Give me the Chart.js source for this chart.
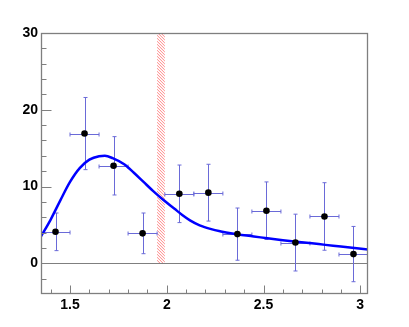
<!DOCTYPE html>
<html>
<head>
<meta charset="utf-8">
<script src="https://cdn.jsdelivr.net/npm/chart.js@4.4.0/dist/chart.umd.min.js"></script>
<style>
body { margin: 0; background: #fff; }
</style>
</head>
<body>
<canvas id="fit-chart" width="409" height="327"></canvas>
<script>
// measured points (bin centre, count, error)
var bin_centers = [1.425, 1.575, 1.725, 1.875, 2.065, 2.215, 2.365, 2.515, 2.665, 2.815, 2.965];
var bin_half_width = [0.075, 0.075, 0.075, 0.075, 0.075, 0.075, 0.075, 0.075, 0.075, 0.075, 0.075];
var counts = [4.1, 16.9, 12.7, 3.9, 9.05, 9.2, 3.8, 6.85, 2.7, 6.1, 1.2];
var count_errors = [2.45, 4.7, 3.8, 2.65, 3.75, 3.7, 3.4, 3.75, 3.7, 4.4, 3.6];

// fit curve
var fit_x = [1.35, 1.40, 1.45, 1.50, 1.55, 1.60, 1.65, 1.68, 1.72, 1.78, 1.83, 1.88, 1.93, 1.98, 2.04, 2.08, 2.12, 2.17, 2.23, 2.28, 2.33, 2.37, 2.45, 2.52, 2.60, 2.67, 2.75, 2.82, 2.90, 2.97, 3.04];
var fit_y = [3.5, 5.7, 8.2, 10.6, 12.4, 13.5, 13.95, 14.0, 13.7, 12.9, 11.8, 10.6, 9.4, 8.3, 7.1, 6.3, 5.6, 4.95, 4.45, 4.15, 3.9, 3.75, 3.5, 3.25, 3.0, 2.8, 2.6, 2.4, 2.2, 2.0, 1.8];

// excluded region (hatched)
var band_x = [1.95, 1.99];
var band_y = [0, 30];

var x_ticks = [1.5, 2, 2.5, 3];
var y_ticks = [0, 10, 20, 30];
var x_minor_step = 0.1;
var y_minor_step = 2;

var axis_grey = '#7f7f7f';
var err_color = '#6a6ad8';

var rootStyle = {
	id: 'rootStyle',
	beforeDatasetsDraw: function(chart) {
		var ctx = chart.ctx;
		var xs = chart.scales.x, ys = chart.scales.y;
		var area = chart.chartArea;

		// hatched band
		var bx0 = xs.getPixelForValue(band_x[0]), bx1 = xs.getPixelForValue(band_x[1]);
		var by0 = ys.getPixelForValue(band_y[1]), by1 = ys.getPixelForValue(band_y[0]);
		var h = by1 - by0;
		ctx.save();
		ctx.beginPath();
		ctx.rect(bx0, by0, bx1 - bx0, h);
		ctx.clip();
		ctx.strokeStyle = 'rgba(255,80,80,0.7)';
		ctx.lineWidth = 1;
		ctx.beginPath();
		for (var d = -h; d < bx1 - bx0; d += 3) {
			ctx.moveTo(bx0 + d, by0);
			ctx.lineTo(bx0 + d + h, by1);
		}
		ctx.stroke();
		ctx.restore();

		// zero line
		var y0 = Math.round(ys.getPixelForValue(0)) + 0.5;
		ctx.save();
		ctx.strokeStyle = axis_grey;
		ctx.lineWidth = 1;
		ctx.beginPath();
		ctx.moveTo(area.left, y0);
		ctx.lineTo(area.right, y0);
		ctx.stroke();

		// error bars
		ctx.beginPath();
		ctx.rect(area.left, area.top, area.right - area.left, area.bottom - area.top);
		ctx.clip();
		ctx.strokeStyle = err_color;
		ctx.lineWidth = 1;
		ctx.beginPath();
		for (var i = 0; i < bin_centers.length; i++) {
			var px = Math.round(xs.getPixelForValue(bin_centers[i])) + 0.5;
			var py = Math.round(ys.getPixelForValue(counts[i])) + 0.5;
			var xl = xs.getPixelForValue(bin_centers[i] - bin_half_width[i]);
			var xr = xs.getPixelForValue(bin_centers[i] + bin_half_width[i]);
			var yt = ys.getPixelForValue(counts[i] + count_errors[i]);
			var yb = ys.getPixelForValue(counts[i] - count_errors[i]);
			ctx.moveTo(xl, py); ctx.lineTo(xr, py);
			ctx.moveTo(px, yt); ctx.lineTo(px, yb);
			ctx.moveTo(xl, py - 2); ctx.lineTo(xl, py + 2);
			ctx.moveTo(xr, py - 2); ctx.lineTo(xr, py + 2);
			ctx.moveTo(px - 2, yt); ctx.lineTo(px + 2, yt);
			ctx.moveTo(px - 2, yb); ctx.lineTo(px + 2, yb);
		}
		ctx.stroke();
		ctx.restore();
	},
	afterDraw: function(chart) {
		var ctx = chart.ctx;
		var xs = chart.scales.x, ys = chart.scales.y;
		var area = chart.chartArea;
		var L = area.left + 0.5, R = area.right - 0.5, T = area.top + 0.5, B = area.bottom - 0.5;
		ctx.save();
		ctx.strokeStyle = axis_grey;
		ctx.lineWidth = 1.3;
		ctx.strokeRect(L, T, R - L, B - T);

		ctx.lineWidth = 1;
		ctx.beginPath();
		// x ticks (inward, from bottom)
		var xv, k;
		for (k = Math.ceil(xs.min / x_minor_step); k * x_minor_step <= xs.max + 1e-9; k++) {
			xv = k * x_minor_step;
			var major = x_ticks.some(function(t) { return Math.abs(t - xv) < 1e-6; });
			var px = Math.round(xs.getPixelForValue(xv)) + 0.5;
			ctx.moveTo(px, B);
			ctx.lineTo(px, B - (major ? 8 : 4));
		}
		// y ticks (inward, from left)
		for (k = Math.ceil(ys.min / y_minor_step); k * y_minor_step <= ys.max + 1e-9; k++) {
			var yv = k * y_minor_step;
			var ymaj = y_ticks.indexOf(yv) >= 0;
			var py = Math.round(ys.getPixelForValue(yv)) + 0.5;
			if (py > B - 1) continue;
			ctx.moveTo(L, py);
			ctx.lineTo(L + (ymaj ? 10 : 5), py);
		}
		ctx.stroke();
		ctx.restore();
	}
};

var tick_font = { family: "'Liberation Sans', Arial, sans-serif", size: 14, weight: 'bold' };

var chart = new Chart(document.getElementById('fit-chart'), {
	type: 'scatter',
	data: {
		datasets: [{
			label: 'data',
			data: bin_centers.map(function(x, i) { return { x: x, y: counts[i] }; }),
			pointRadius: 3.3,
			pointBackgroundColor: '#000',
			pointBorderWidth: 0,
			order: 1
		}, {
			label: 'fit',
			data: fit_x.map(function(x, i) { return { x: x, y: fit_y[i] }; }),
			showLine: true,
			borderColor: '#0000ff',
			borderWidth: 2.5,
			pointRadius: 0,
			cubicInterpolationMode: 'monotone',
			order: 2
		}]
	},
	options: {
		responsive: false,
		animation: false,
		devicePixelRatio: 1,
		layout: { padding: { top: 33, right: 41, left: 0, bottom: 0 } },
		plugins: {
			legend: { display: false },
			tooltip: { enabled: false }
		},
		scales: {
			x: {
				type: 'linear',
				min: 1.35,
				max: 3.04,
				grid: { display: false, drawTicks: false },
				border: { display: false },
				afterBuildTicks: function(scale) {
					scale.ticks = x_ticks.map(function(v) { return { value: v }; });
				},
				afterFit: function(scale) { scale.height = 33; },
				ticks: {
					color: '#000',
					font: tick_font,
					padding: 3,
					maxRotation: 0,
					callback: function(v) { return String(v); }
				}
			},
			y: {
				type: 'linear',
				min: -4,
				max: 30,
				grid: { display: false, drawTicks: false },
				border: { display: false },
				afterBuildTicks: function(scale) {
					scale.ticks = y_ticks.map(function(v) { return { value: v }; });
				},
				afterFit: function(scale) { scale.width = 41; },
				ticks: {
					color: '#000',
					font: tick_font,
					padding: 3,
					callback: function(v) { return String(v); }
				}
			}
		}
	},
	plugins: [rootStyle]
});
</script>
</body>
</html>
